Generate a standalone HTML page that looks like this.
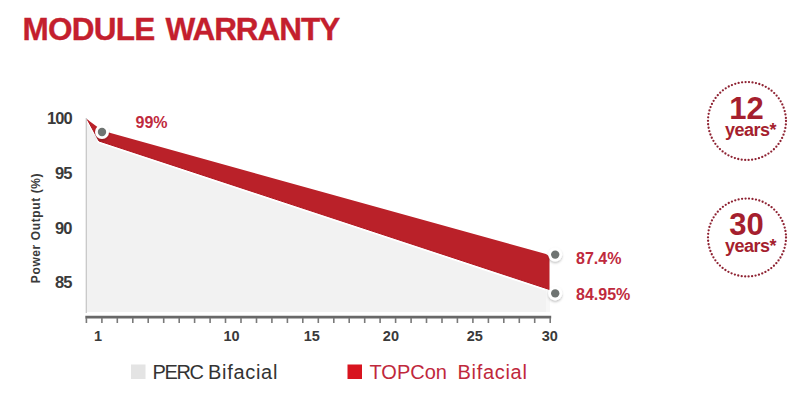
<!DOCTYPE html>
<html><head><meta charset="utf-8">
<style>
html,body{margin:0;padding:0;background:#fff;}
body{width:800px;height:400px;position:relative;overflow:hidden;font-family:"Liberation Sans",sans-serif;}
.a{position:absolute;white-space:nowrap;line-height:1;}
#title{left:22.5px;top:13.5px;font-size:31.5px;font-weight:bold;color:#c41f2e;letter-spacing:-0.75px;word-spacing:3px;-webkit-text-stroke:0.35px #c41f2e;}
.yl{font-size:16.5px;color:#3a3a3a;font-weight:bold;letter-spacing:-0.9px;}
.xl{font-size:14.5px;color:#3a3a3a;font-weight:bold;}
.pct{font-size:16px;font-weight:bold;color:#bf2a3d;}
.leg{font-size:20px;}
</style></head><body>
<svg width="800" height="400" style="position:absolute;left:0;top:0">
  <defs>
    <filter id="sh" x="-50%" y="-50%" width="200%" height="200%">
      <feDropShadow dx="0" dy="1.5" stdDeviation="1.2" flood-color="#000" flood-opacity="0.25"/>
    </filter>
  </defs>
  <!-- gray fill -->
  <rect x="545" y="288" width="5" height="24" fill="#f7f7f7"/>
  <polygon points="87,122 98,143 546,290.8 546,312 87,312" fill="#f2f2f2"/>
  <!-- y axis -->
  <line x1="86.3" y1="118" x2="86.3" y2="313" stroke="#c8c8c8" stroke-width="1.3"/>
  <!-- red band -->
  <polygon points="87.3,119.5 102.5,130.8 546,254 549.5,256.5 549.5,289.5 99,141" fill="#ba2129"/>
  <polyline points="87.3,119.5 99,141 549.5,289.5" fill="none" stroke="#b0151f" stroke-width="1" stroke-linejoin="round"/>
  <!-- x axis -->
  <line x1="85.3" y1="317.1" x2="551.2" y2="317.1" stroke="#686868" stroke-width="2.6"/>
  <g stroke="#7a7a7a" stroke-width="1.6"><line x1="86.4" y1="318" x2="86.4" y2="323"/><line x1="101.9" y1="318" x2="101.9" y2="323"/><line x1="117.3" y1="318" x2="117.3" y2="323"/><line x1="132.8" y1="318" x2="132.8" y2="323"/><line x1="148.2" y1="318" x2="148.2" y2="323"/><line x1="163.7" y1="318" x2="163.7" y2="323"/><line x1="179.2" y1="318" x2="179.2" y2="323"/><line x1="194.6" y1="318" x2="194.6" y2="323"/><line x1="210.1" y1="318" x2="210.1" y2="323"/><line x1="225.5" y1="318" x2="225.5" y2="323"/><line x1="241.0" y1="318" x2="241.0" y2="323"/><line x1="256.5" y1="318" x2="256.5" y2="323"/><line x1="271.9" y1="318" x2="271.9" y2="323"/><line x1="287.4" y1="318" x2="287.4" y2="323"/><line x1="302.8" y1="318" x2="302.8" y2="323"/><line x1="318.3" y1="318" x2="318.3" y2="323"/><line x1="333.8" y1="318" x2="333.8" y2="323"/><line x1="349.2" y1="318" x2="349.2" y2="323"/><line x1="364.7" y1="318" x2="364.7" y2="323"/><line x1="380.1" y1="318" x2="380.1" y2="323"/><line x1="395.6" y1="318" x2="395.6" y2="323"/><line x1="411.1" y1="318" x2="411.1" y2="323"/><line x1="426.5" y1="318" x2="426.5" y2="323"/><line x1="442.0" y1="318" x2="442.0" y2="323"/><line x1="457.4" y1="318" x2="457.4" y2="323"/><line x1="472.9" y1="318" x2="472.9" y2="323"/><line x1="488.4" y1="318" x2="488.4" y2="323"/><line x1="503.8" y1="318" x2="503.8" y2="323"/><line x1="519.3" y1="318" x2="519.3" y2="323"/><line x1="534.7" y1="318" x2="534.7" y2="323"/><line x1="550.2" y1="318" x2="550.2" y2="323"/></g>
  <!-- markers -->
  <g filter="url(#sh)">
    <circle cx="102" cy="132" r="7" fill="#fff"/>
    <circle cx="555.2" cy="254.6" r="7" fill="#fff"/>
    <circle cx="555.2" cy="293.4" r="7" fill="#fff"/>
  </g>
  <circle cx="102" cy="132" r="4.2" fill="#6f7472"/>
  <circle cx="555.2" cy="254.6" r="4.2" fill="#6f7472"/>
  <circle cx="555.2" cy="293.4" r="4.2" fill="#6f7472"/>
  <!-- badges -->
  <circle cx="747" cy="121" r="39" fill="none" stroke="#8e2232" stroke-width="2.3" stroke-dasharray="0 3.5006" stroke-linecap="round"/>
  <circle cx="747" cy="237.5" r="39" fill="none" stroke="#8e2232" stroke-width="2.3" stroke-dasharray="0 3.5006" stroke-linecap="round"/>
  <!-- legend squares -->
  <rect x="131" y="364.5" width="14.5" height="14.5" fill="#e4e4e4"/>
  <rect x="347.5" y="364.5" width="14.5" height="14.5" fill="#d8141f"/>
</svg>
<div id="title" class="a">MODULE <span style="letter-spacing:-1.05px">WARRANTY</span></div>

<div class="a yl" style="left:47px;top:110px">100</div>
<div class="a yl" style="left:55px;top:165px">95</div>
<div class="a yl" style="left:55px;top:219.5px">90</div>
<div class="a yl" style="left:55px;top:274px">85</div>

<div class="a" style="left:35.5px;top:228px;transform:translate(-50%,-50%) rotate(-90deg);font-size:12px;letter-spacing:0.6px;color:#3a3a3a;font-weight:bold;">Power Output (%)</div>

<div class="a xl" style="left:98px;top:329px;transform:translateX(-50%)">1</div>
<div class="a xl" style="left:231.5px;top:329px;transform:translateX(-50%)">10</div>
<div class="a xl" style="left:311.8px;top:329px;transform:translateX(-50%)">15</div>
<div class="a xl" style="left:390.9px;top:329px;transform:translateX(-50%)">20</div>
<div class="a xl" style="left:474.8px;top:329px;transform:translateX(-50%)">25</div>
<div class="a xl" style="left:549.8px;top:329px;transform:translateX(-50%)">30</div>

<div class="a pct" style="left:135.5px;top:115px">99%</div>
<div class="a pct" style="left:576px;top:251px">87.4%</div>
<div class="a pct" style="left:576px;top:287px">84.95%</div>

<div class="a" style="left:746.5px;top:92.5px;transform:translateX(-50%);font-size:31px;font-weight:bold;color:#a51f2e">12</div>
<div class="a" style="left:750.5px;top:120.5px;transform:translateX(-50%);font-size:18px;letter-spacing:-0.5px;font-weight:bold;color:#a51f2e">years*</div>
<div class="a" style="left:746.5px;top:209px;transform:translateX(-50%);font-size:31px;font-weight:bold;color:#a51f2e">30</div>
<div class="a" style="left:750.5px;top:236.5px;transform:translateX(-50%);font-size:18px;letter-spacing:-0.5px;font-weight:bold;color:#a51f2e">years*</div>

<div class="a leg" style="left:152.5px;top:362px;color:#333;letter-spacing:-1.4px">PERC</div>
<div class="a leg" style="left:208px;top:362px;color:#333;letter-spacing:0.7px">Bifacial</div>
<div class="a leg" style="left:369.5px;top:362px;color:#c0283c">TOPCon</div>
<div class="a leg" style="left:457.5px;top:362px;color:#c0283c;letter-spacing:0.7px">Bifacial</div>
</body></html>
